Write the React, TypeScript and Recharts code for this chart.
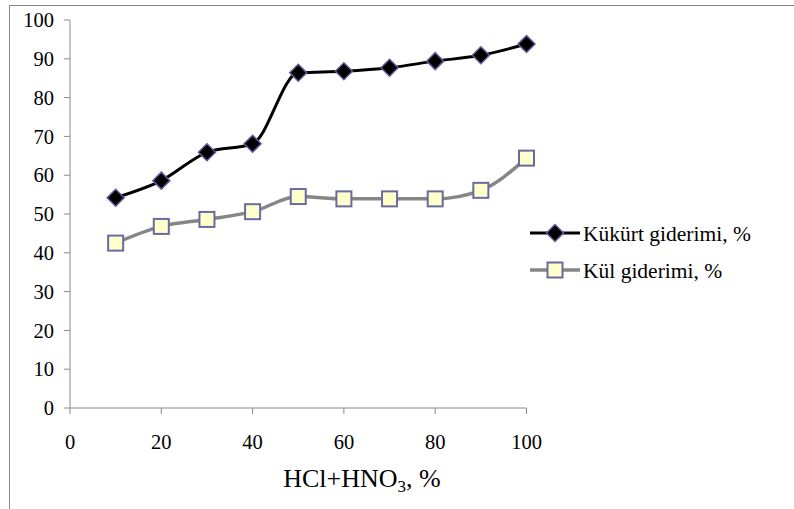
import { LineChart, Line, XAxis, YAxis } from 'recharts';

const concentrations = [10, 20, 30, 40, 50, 60, 70, 80, 90, 100];
const sulfurRemoval = [54.2, 58.6, 65.9, 68.1, 86.4, 86.8, 87.7, 89.4, 90.9, 93.8];
const ashRemoval = [42.5, 46.8, 48.6, 50.6, 54.5, 53.9, 53.9, 53.9, 56.1, 64.4];
const xTicks = [0, 20, 40, 60, 80, 100];
const yTicks = [0, 10, 20, 30, 40, 50, 60, 70, 80, 90, 100];

const sulfurName = 'Kükürt giderimi, %';
const ashName = 'Kül giderimi, %';

const data = concentrations.map((c, i) => ({
  x: c,
  sulfur: sulfurRemoval[i],
  ash: ashRemoval[i],
}));

const FONT = "'Liberation Serif', 'Times New Roman', serif";
const AXIS = '#8a8a8a';

const Diamond = ({ cx, cy }: { cx: number; cy: number }) => (
  <polygon
    points={`${cx},${cy - 8.5} ${cx + 8.5},${cy} ${cx},${cy + 8.5} ${cx - 8.5},${cy}`}
    fill="#000"
    stroke="#5c5c98"
    strokeWidth={1.5}
  />
);

const Square = ({ cx, cy }: { cx: number; cy: number }) => (
  <rect x={cx - 7.5} y={cy - 7.5} width={15} height={15} fill="#ffffcc" stroke="#6a6aa0" strokeWidth={2} />
);

// legend sits to the right of the plot, outside recharts' own layout
const LegendBox = () => (
  <svg width={262} height={80} style={{ position: 'absolute', left: 528, top: 218 }}>
    <line x1={2} y1={15} x2={52} y2={15} stroke="#000" strokeWidth={3} />
    <Diamond cx={27} cy={15} />
    <text x={55} y={15} dy="0.35em" style={{ fontFamily: FONT }} fontSize={21.5} fill="#000">
      {sulfurName}
    </text>
    <line x1={2} y1={52} x2={52} y2={52} stroke="#868686" strokeWidth={3.5} />
    <Square cx={27} cy={52} />
    <text x={55} y={52} dy="0.35em" style={{ fontFamily: FONT }} fontSize={21.5} fill="#000">
      {ashName}
    </text>
  </svg>
);

const XLabel = () => (
  <text x={362} y={487} textAnchor="middle" style={{ fontFamily: FONT }} fontSize={26} fill="#000">
    <tspan>HCl+HNO</tspan>
    <tspan fontSize={17} dy={5}>3</tspan>
    <tspan dy={-5}>, %</tspan>
  </text>
);

export default function App() {
  return (
    <div style={{ position: 'absolute', left: 0, top: 0, width: 794, height: 509, overflow: 'hidden', background: '#fff', fontFamily: FONT }}>
      <div
        style={{
          position: 'absolute',
          left: 9,
          top: 5,
          width: 820,
          height: 540,
          borderLeft: '1.5px solid #888',
          borderTop: '1.5px solid #888',
        }}
      />
      <div style={{ position: 'absolute', left: 0, top: 0 }}>
        <LineChart
          width={794}
          height={509}
          data={data}
          margin={{ top: 20, right: 267.5, left: 10, bottom: 71 }}
        >
          <XAxis
            dataKey="x"
            type="number"
            domain={[0, 100]}
            ticks={xTicks}
            height={30}
            stroke={AXIS}
            tickSize={6}
            tickMargin={20}
            tick={{ fill: '#000', fontSize: 20.5, fontFamily: FONT }}
            label={<XLabel />}
          />
          <YAxis
            type="number"
            domain={[0, 100]}
            ticks={yTicks}
            width={60}
            stroke={AXIS}
            tickSize={6}
            tickMargin={10}
            tick={{ fill: '#000', fontSize: 20.5, fontFamily: FONT }}
          />
          <Line
            dataKey="sulfur"
            name={sulfurName}
            type="monotone"
            stroke="#000"
            strokeWidth={3}
            dot={(p: any) => <Diamond key={`d${p.index}`} cx={p.cx} cy={p.cy} />}
            activeDot={false}
            isAnimationActive={false}
          />
          <Line
            dataKey="ash"
            name={ashName}
            type="monotone"
            stroke="#868686"
            strokeWidth={3.5}
            dot={(p: any) => <Square key={`s${p.index}`} cx={p.cx} cy={p.cy} />}
            activeDot={false}
            isAnimationActive={false}
          />
        </LineChart>
      </div>
      <LegendBox />
    </div>
  );
}
